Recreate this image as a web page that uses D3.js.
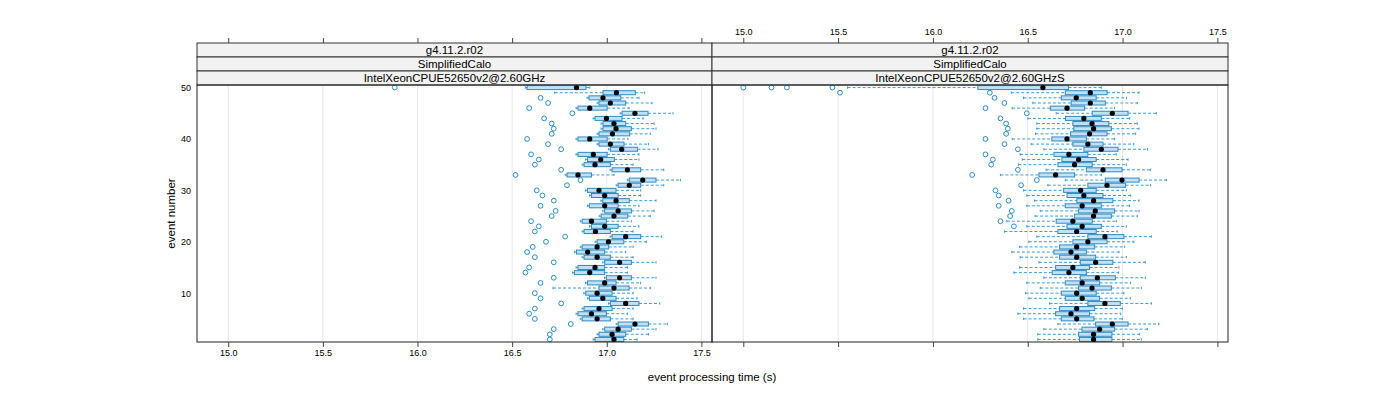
<!DOCTYPE html>
<html><head><meta charset="utf-8">
<script src="https://cdn.jsdelivr.net/npm/d3@7"></script>
<style>body{margin:0;background:#fff}text{font-family:"Liberation Sans",Arial,sans-serif}</style>
</head><body><svg id="c" width="1400" height="400"></svg>
<script>
const events = d3.range(1, 51);
const xTicks = [15.0, 15.5, 16.0, 16.5, 17.0, 17.5];
const yTicks = [10, 20, 30, 40, 50];
const stripLabels = [
  ["g4.11.2.r02", "SimplifiedCalo", "IntelXeonCPUE52650v2@2.60GHz"],
  ["g4.11.2.r02", "SimplifiedCalo", "IntelXeonCPUE52650v2@2.60GHzS"]
];
// Left panel (events 1..50)
const wloL = [16.928,16.949,16.979,17.050,16.860,16.838,16.870,17.009,16.898,16.879,16.716,16.888,16.988,16.819,16.838,16.979,16.870,16.830,16.860,16.939,17.018,16.870,16.909,16.860,16.960,16.979,16.898,16.969,16.909,16.888,17.050,17.109,16.780,17.018,16.870,16.888,16.838,17.009,16.949,16.838,16.949,16.970,16.970,16.928,17.071,16.838,16.949,16.896,16.725,16.570];
const q1L = [16.938,16.959,16.989,17.060,16.870,16.848,16.880,17.019,16.908,16.889,16.959,16.898,16.998,16.829,16.848,16.989,16.880,16.840,16.870,16.949,17.028,16.880,16.919,16.870,16.970,16.989,16.908,16.979,16.919,16.898,17.060,17.119,16.790,17.028,16.880,16.898,16.848,17.019,16.959,16.848,16.959,16.980,16.980,16.938,17.081,16.848,16.959,16.906,16.980,16.579];
const medL = [17.038,17.028,17.060,17.149,16.949,16.919,16.959,17.100,16.979,16.949,17.038,16.989,17.068,16.910,16.938,17.068,16.949,16.899,16.949,17.009,17.100,16.940,16.989,16.919,17.038,17.060,16.989,17.049,16.989,16.959,17.119,17.190,16.848,17.109,16.938,16.968,16.929,17.079,17.019,16.910,17.030,17.049,17.038,16.998,17.149,16.910,17.019,16.980,17.051,16.840];
const q3L = [17.090,17.100,17.130,17.220,17.019,16.998,17.028,17.170,17.049,17.028,17.118,17.049,17.130,16.989,16.989,17.130,17.019,16.989,17.010,17.090,17.179,17.019,17.060,16.998,17.111,17.130,17.060,17.119,17.060,17.049,17.179,17.260,16.919,17.179,17.019,17.040,17.002,17.162,17.091,17.002,17.121,17.130,17.100,17.081,17.218,17.002,17.100,17.074,17.151,16.890];
const whiL = [17.160,17.220,17.260,17.320,17.139,17.109,17.139,17.280,17.160,17.139,17.230,17.179,17.260,17.109,17.109,17.260,17.139,17.100,17.139,17.209,17.290,17.139,17.170,17.130,17.230,17.250,17.170,17.260,17.179,17.179,17.301,17.389,17.038,17.301,17.139,17.170,17.170,17.271,17.220,17.112,17.230,17.260,17.250,17.192,17.350,17.118,17.239,17.170,17.200,16.910];
const outL = [[16.699],[16.699],[16.720],[16.810],[16.620],[16.590],[16.620],[16.759],[16.650],[16.620],[],[16.650],[16.720],[16.570],[16.590],[16.720],[16.620],[16.579],[16.609],[16.679],[16.780],[16.620],[16.641],[16.600],[16.709],[16.730],[16.650],[16.720],[16.660],[16.630],[16.790],[16.861],[16.518],[16.759],[16.620],[16.641],[16.600],[16.759],[16.690],[16.579],[16.709],[16.720],[16.709],[16.669],[16.818],[16.590],[16.690],[16.650],[],[15.880]];
// Right panel (events 1..50)
const wloR = [16.553,16.553,16.585,16.659,16.478,16.448,16.478,16.615,16.506,16.488,16.566,16.495,16.585,16.427,16.457,16.559,16.460,16.416,16.457,16.506,16.548,16.377,16.495,16.390,16.539,16.566,16.495,16.536,16.495,16.478,16.606,16.698,16.356,16.597,16.451,16.471,16.460,16.585,16.518,16.418,16.541,16.548,16.548,16.501,16.650,16.418,16.527,16.478,16.413,15.550];
const q1R = [16.773,16.768,16.786,16.858,16.677,16.647,16.668,16.817,16.698,16.677,16.768,16.698,16.777,16.629,16.647,16.777,16.668,16.638,16.668,16.738,16.817,16.659,16.707,16.650,16.747,16.768,16.698,16.759,16.707,16.689,16.817,16.909,16.559,16.809,16.659,16.680,16.638,16.796,16.738,16.627,16.726,16.743,16.738,16.699,16.840,16.619,16.729,16.677,16.698,16.237];
const medR = [16.847,16.847,16.879,16.946,16.758,16.728,16.758,16.907,16.787,16.758,16.839,16.787,16.867,16.717,16.738,16.858,16.758,16.728,16.758,16.817,16.907,16.758,16.787,16.738,16.847,16.856,16.787,16.847,16.796,16.779,16.918,16.997,16.647,16.897,16.747,16.768,16.717,16.888,16.817,16.707,16.826,16.847,16.839,16.796,16.946,16.707,16.830,16.756,16.830,16.580];
const q3R = [16.944,16.944,16.958,17.029,16.849,16.826,16.853,16.988,16.879,16.861,16.941,16.879,16.962,16.809,16.826,16.949,16.858,16.809,16.853,16.918,17.007,16.861,16.888,16.840,16.941,16.958,16.888,16.949,16.897,16.861,17.016,17.087,16.747,16.997,16.840,16.861,16.817,16.976,16.897,16.809,16.918,16.941,16.928,16.888,17.029,16.800,16.909,16.861,16.918,16.715];
const whiR = [17.099,17.090,17.131,17.191,16.999,16.990,16.999,17.152,17.041,17.007,17.099,17.043,17.120,16.979,16.981,17.120,17.020,16.981,17.011,17.060,17.152,16.972,17.020,16.967,17.078,17.087,17.037,17.087,17.043,17.020,17.148,17.231,16.888,17.148,17.020,17.029,16.967,17.131,17.059,16.958,17.069,17.087,17.078,17.037,17.178,16.958,17.078,17.020,17.087,16.888];
const outR = [[],[],[],[],[],[],[],[],[],[],[],[],[],[],[],[],[],[],[],[],[],[],[16.427],[16.356],[16.407],[16.416],[16.347],[16.399],[16.347],[16.330],[16.465],[16.548],[16.207],[16.448],[16.307],[16.316],[16.277],[16.448],[16.377],[16.277],[16.386],[16.395],[16.386],[16.356],[16.495],[16.277],[16.377],[16.325],[15.51,16.30],[15.0,15.149,15.23,15.47]];

const panels = [
  {wlo: wloL, q1: q1L, med: medL, q3: q3L, whi: whiL, out: outL, x0: 197, x1: 712},
  {wlo: wloR, q1: q1R, med: medR, q3: q3R, whi: whiR, out: outR, x0: 712, x1: 1228}
];

const svg = d3.select("#c");
const pTop = 85, pBot = 342;
const stripH = 14;
const y = d3.scaleLinear().domain([0.5, 50.5]).range([pBot, pTop]);
const boxCol = "#2b8cc4", boxFill = "#c4e0f4", whCol = "#3d9bd8";

panels.forEach((p, pi) => {
  const x = d3.scaleLinear().domain([14.835, 17.556]).range([p.x0, p.x1]);
  const g = svg.append("g");
  g.selectAll("line.grid").data(xTicks).join("line")
    .attr("x1", d => x(d)).attr("x2", d => x(d)).attr("y1", pTop).attr("y2", pBot)
    .attr("stroke", "#e8e8e8").attr("stroke-width", 1);
  stripLabels[pi].forEach((lab, k) => {
    const sy = pTop - (3 - k) * stripH;
    g.append("rect").attr("x", p.x0).attr("y", sy).attr("width", p.x1 - p.x0).attr("height", stripH)
      .attr("fill", "#f2f2f2").attr("stroke", "#333").attr("stroke-width", 1);
    g.append("text").attr("x", (p.x0 + p.x1) / 2).attr("y", sy + stripH / 2 + 4)
      .attr("text-anchor", "middle").attr("font-size", 11.5).attr("fill", "#000").text(lab);
  });
  const rows = events.map((e, i) => ({e, wlo: p.wlo[i], q1: p.q1[i], med: p.med[i], q3: p.q3[i], whi: p.whi[i], out: p.out[i]}));
  const wg = g.append("g").attr("stroke", whCol).attr("stroke-width", 1);
  rows.forEach(r => {
    const yy = y(r.e);
    wg.append("line").attr("x1", x(r.wlo)).attr("x2", x(r.q1)).attr("y1", yy).attr("y2", yy).attr("stroke-dasharray", "3,2");
    wg.append("line").attr("x1", x(r.q3)).attr("x2", x(r.whi)).attr("y1", yy).attr("y2", yy).attr("stroke-dasharray", "3,2");
    wg.append("line").attr("x1", x(r.wlo)).attr("x2", x(r.wlo)).attr("y1", yy - 1.2).attr("y2", yy + 1.2);
    wg.append("line").attr("x1", x(r.whi)).attr("x2", x(r.whi)).attr("y1", yy - 1.2).attr("y2", yy + 1.2);
  });
  g.selectAll("rect.box").data(rows).join("rect")
    .attr("x", d => x(d.q1)).attr("y", d => y(d.e) - 2)
    .attr("width", d => x(d.q3) - x(d.q1)).attr("height", 4)
    .attr("fill", boxFill).attr("stroke", boxCol).attr("stroke-width", 1);
  g.selectAll("circle.med").data(rows).join("circle")
    .attr("cx", d => x(d.med)).attr("cy", d => y(d.e)).attr("r", 2.6).attr("fill", "#000");
  const outs = rows.flatMap(r => r.out.map(v => ({e: r.e, v})));
  g.selectAll("circle.out").data(outs).join("circle")
    .attr("cx", d => x(d.v)).attr("cy", d => y(d.e)).attr("r", 2.4)
    .attr("fill", "none").attr("stroke", boxCol).attr("stroke-width", 1);
  g.append("rect").attr("x", p.x0).attr("y", pTop).attr("width", p.x1 - p.x0).attr("height", pBot - pTop)
    .attr("fill", "none").attr("stroke", "#222").attr("stroke-width", 1);
  const bot = d3.axisBottom(x).tickValues(xTicks).tickFormat(d3.format(".1f")).tickSize(5).tickSizeOuter(0);
  const tp = d3.axisTop(x).tickValues(xTicks).tickFormat(d3.format(".1f")).tickSize(5).tickSizeOuter(0);
  const ab = svg.append("g").attr("transform", `translate(0,${pBot})`).call(bot);
  const at = svg.append("g").attr("transform", `translate(0,${pTop - 3 * stripH})`).call(tp);
  [ab, at].forEach(a => {
    a.select(".domain").remove();
    a.selectAll("line").attr("stroke", "#444");
    a.selectAll("text").attr("font-size", 9).attr("fill", "#000").style("font-family", "Liberation Sans, Arial, sans-serif");
  });
  if (pi === 0) at.selectAll("text").remove(); else ab.selectAll("text").remove();
});

const ya = svg.append("g").attr("transform", "translate(197,0)")
  .call(d3.axisLeft(y).tickValues(yTicks).tickSize(0).tickPadding(6));
ya.select(".domain").remove();
ya.selectAll("text").attr("font-size", 9).attr("fill", "#000").style("font-family", "Liberation Sans, Arial, sans-serif");

svg.append("text").attr("x", 712).attr("y", 381).attr("text-anchor", "middle").attr("font-size", 11.5).text("event processing time (s)");
svg.append("text").attr("transform", "translate(175,213.5) rotate(-90)").attr("text-anchor", "middle").attr("font-size", 11.5).text("event number");
</script></body></html>
